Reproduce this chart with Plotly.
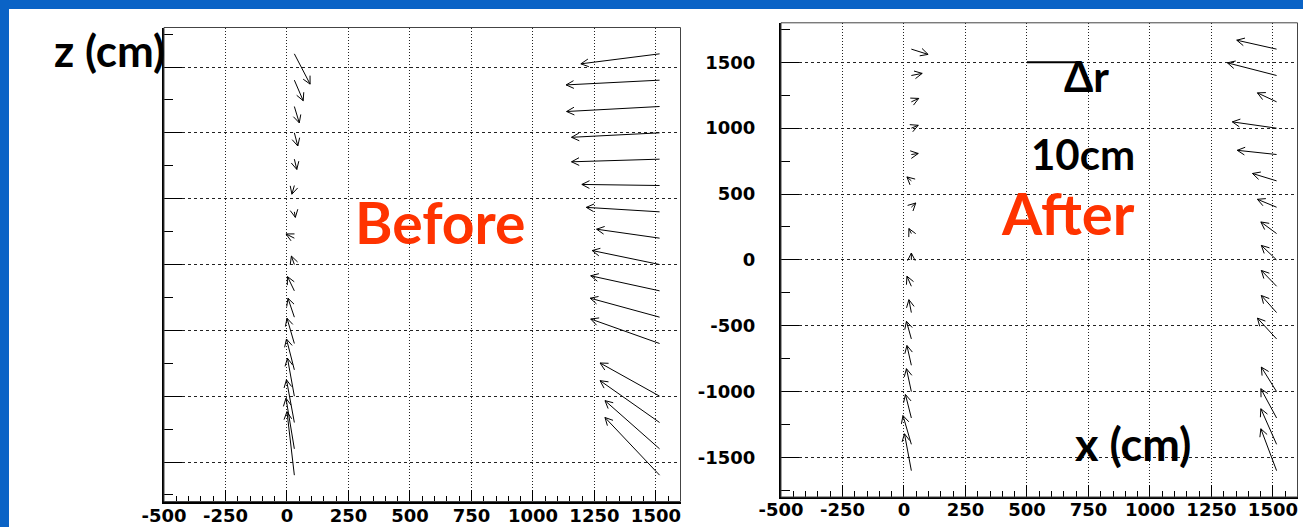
import numpy as np
import plotly.graph_objects as go

W, H = 1303, 527

# ---- chamber positions (cm) ----
z_inner = [1600, 1400, 1200, 1000, 800, 600, 400, 200, 0,
           -200, -400, -600, -800, -1000, -1200, -1400, -1600]
z_outer = [1600, 1400, 1200, 1000, 800, 600, 400, 200, 0,
           -200, -400, -600, -1000, -1200, -1400, -1600]
x_inner = 30
x_outer = 1515

# ---- displacement vectors delta-r (cm) ----
before_inner_dx = [3.2, 1.8, 1.0, 0.7, 0.5, -0.5, 0.2, -1.7, -0.6,
                   -1.4, -1.3, -1.5, -1.6, -1.4, -1.6, -1.7, -1.5]
before_inner_dz = [-11.5, -7.8, -6.2, -5.0, -3.9, -3.3, -2.1, 1.6, 3.2,
                   5.4, 7.2, 9.6, 11.7, 14.4, 16.2, 19.2, 24.1]
before_outer_dx = [-16.0, -19.0, -18.9, -17.9, -17.9, -15.8, -14.9, -12.8,
                   -13.7, -14.0, -14.1, -14.0, -12.1, -12.1, -11.1, -11.1]
before_outer_dz = [-3.8, -1.8, -1.9, -1.7, -1.0, 0.4, 1.7, 3.4,
                   5.3, 5.7, 7.2, 9.3, 12.6, 15.9, 18.3, 21.9]

after_inner_dx = [3.4, 2.2, 1.5, 1.4, 1.4, -0.9, 0.9, -0.5, 0.0,
                  -0.9, -0.5, -1.0, -0.9, -1.0, -1.2, -1.7, -1.4]
after_inner_dz = [-2.0, 0.8, 1.3, 1.1, 0.4, 1.5, 1.6, 1.9, 2.6,
                  3.8, 4.9, 6.7, 7.5, 8.7, 8.9, 10.9, 14.0]
after_outer_dx = [-8.1, -10.0, -3.9, -9.0, -8.0, -4.9, -3.9, -3.2,
                  -3.1, -3.1, -3.1, -3.9, -3.1, -3.2, -3.2, -3.2]
after_outer_dz = [3.4, 4.8, 3.4, 2.4, 1.6, 2.8, 3.0, 4.4,
                  5.5, 6.0, 6.5, 7.9, 9.3, 11.1, 13.5, 15.9]

# ---- axes ----
x_ticks = [-500, -250, 0, 250, 500, 750, 1000, 1250, 1500]
x_ticktext = ["-500", "-250", "0", "250", "500", "750", "1000", "1250", "1500"]
z_ticks = [-1500, -1000, -500, 0, 500, 1000, 1500]
z_ticktext = ["-1500", "-1000", "-500", "0", "500", "1000", "1500"]
X_RANGE = [-500, 1600]
Z_RANGE = [-1800, 1800]

DR_SCALE = 20      # drawn cm per cm of displacement
DR_LEGEND = 10     # reference bar length (cm)

# panel placement in pixels: (left, right, top, bottom)
panels = {
    "before": (164, 680.5, 27.5, 501.5),
    "after": (781, 1297.5, 22.8, 497.0),
}


def px_scale(box):
    l, r, t, b = box
    return (r - l) / (X_RANGE[1] - X_RANGE[0]), (b - t) / (Z_RANGE[1] - Z_RANGE[0])


def arrows(x0, zs, dxs, dzs, box, head=8.5, ang=np.radians(27)):
    sx, sz = px_scale(box)
    xs, ys = [], []
    for z0, dx, dz in zip(zs, dxs, dzs):
        x1 = x0 + dx * DR_SCALE
        z1 = z0 + dz * DR_SCALE
        px, pz = (x1 - x0) * sx, (z1 - z0) * sz
        L = np.hypot(px, pz)
        ux, uz = -px / L, -pz / L
        wings = []
        for s in (1, -1):
            c, sn = np.cos(ang), np.sin(ang) * s
            wx = ux * c - uz * sn
            wz = ux * sn + uz * c
            wings.append((x1 + wx * head / sx, z1 + wz * head / sz))
        xs += [x0, x1, None, wings[0][0], x1, wings[1][0], None]
        ys += [z0, z1, None, wings[0][1], z1, wings[1][1], None]
    return xs, ys


fig = go.Figure()

for key, xa, ya, sets in [
    ("before", "x", "y", [(x_inner, z_inner, before_inner_dx, before_inner_dz),
                          (x_outer, z_outer, before_outer_dx, before_outer_dz)]),
    ("after", "x2", "y2", [(x_inner, z_inner, after_inner_dx, after_inner_dz),
                           (x_outer, z_outer, after_outer_dx, after_outer_dz)]),
]:
    ax_x, ax_y = [], []
    for x0, zs, dxs, dzs in sets:
        a, b = arrows(x0, zs, dxs, dzs, panels[key])
        ax_x += a
        ax_y += b
    fig.add_trace(go.Scatter(x=ax_x, y=ax_y, mode="lines", xaxis=xa, yaxis=ya,
                             line=dict(color="black", width=1),
                             hoverinfo="skip", showlegend=False))

# 10 cm reference bar
fig.add_trace(go.Scatter(x=[500, 500 + DR_LEGEND * DR_SCALE], y=[1500, 1500],
                         mode="lines", xaxis="x2", yaxis="y2",
                         line=dict(color="black", width=2),
                         hoverinfo="skip", showlegend=False))

tickfont = dict(family="DejaVu Sans", size=18, color="black", weight="bold")


def xaxis_cfg(box, anchor, standoff):
    l, r, t, b = box
    return dict(
        domain=[l / W, r / W], range=X_RANGE, anchor=anchor, automargin=False,
        tickmode="array", tickvals=x_ticks, ticktext=x_ticktext,
        ticks="inside", ticklen=12, tickwidth=1, tickcolor="black",
        minor=dict(dtick=50, tick0=0, ticks="inside", ticklen=6,
                   tickwidth=1, tickcolor="black", showgrid=False),
        showgrid=True, gridcolor="#222", gridwidth=1, griddash="1px,2px",
        showline=True, linecolor="black", linewidth=2, zeroline=False,
        tickfont=tickfont, ticklabelstandoff=standoff, fixedrange=True,
    )


def yaxis_cfg(box, anchor, labels):
    l, r, t, b = box
    return dict(
        domain=[1 - b / H, 1 - t / H], range=Z_RANGE, anchor=anchor,
        automargin=False,
        tickmode="array", tickvals=z_ticks, ticktext=z_ticktext,
        showticklabels=labels,
        ticks="inside", ticklen=18, tickwidth=1, tickcolor="black",
        minor=dict(dtick=250, tick0=0, ticks="inside", ticklen=9,
                   tickwidth=1, tickcolor="black", showgrid=False),
        showgrid=True, gridcolor="#222", gridwidth=1, griddash="3px,3px",
        showline=True, linecolor="black", linewidth=2, zeroline=False,
        tickfont=tickfont, ticklabelstandoff=20, fixedrange=True,
    )


shapes = [
    # slide content area
    dict(type="rect", xref="paper", yref="paper", x0=9 / W, x1=1, y0=0, y1=1 - 9 / H,
         fillcolor="white", line=dict(width=0), layer="below"),
]
for xr, yr in [("x", "y"), ("x2", "y2")]:
    shapes.append(dict(type="rect", xref=f"{xr} domain", yref=f"{yr} domain",
                       x0=0, x1=1, y0=0, y1=1, line=dict(color="#444", width=1),
                       layer="above"))


def ann(text, cx, cy, size, color="black"):
    return dict(text=text, x=cx / W, y=1 - cy / H, xref="paper", yref="paper",
                xanchor="center", yanchor="middle", showarrow=False,
                font=dict(family="Lato", size=size, color=color, weight="bold"))


annotations = [
    ann("z (cm)", 109, 50, 44),
    ann("Before", 440, 222, 57, "#FF3300"),
    ann("After", 1068, 212, 58, "#FF3300"),
    ann("Δr", 1086, 76, 42),
    ann("10cm", 1083, 154, 42),
    ann("x (cm)", 1133, 444, 45),
]

fig.update_layout(
    width=W, height=H, margin=dict(l=0, r=0, t=0, b=0, pad=0, autoexpand=False),
    paper_bgcolor="#0A63C6", plot_bgcolor="white",
    xaxis=xaxis_cfg(panels["before"], "y", -3),
    yaxis=yaxis_cfg(panels["before"], "x", False),
    xaxis2=xaxis_cfg(panels["after"], "y2", -5),
    yaxis2=yaxis_cfg(panels["after"], "x2", True),
    shapes=shapes, annotations=annotations, showlegend=False,
)

fig.write_html("out.html")
